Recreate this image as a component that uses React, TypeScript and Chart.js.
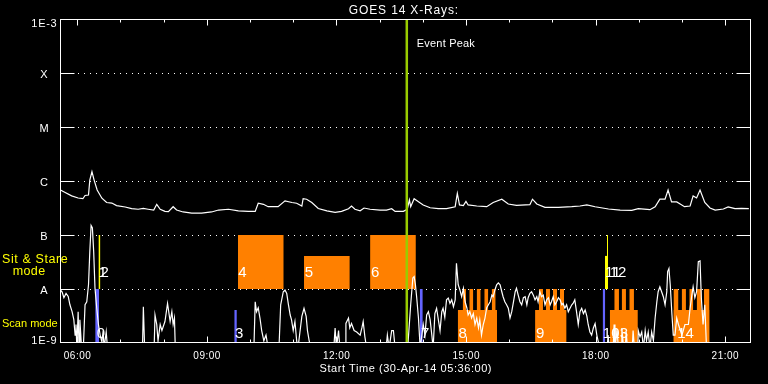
import React, { useEffect, useRef } from 'react';
import { Chart, registerables } from 'chart.js';

Chart.register(...registerables);

// ---------- texts ----------
const TITLE = 'GOES 14 X-Rays:';
const X_TITLE = 'Start Time (30-Apr-14 05:36:00)';
const EVENT_LABEL = 'Event Peak';
const SIT_LABEL = ['Sit & Stare', 'mode'];
const SCAN_LABEL = 'Scan mode';

// ---------- axes ----------
const timeRange = [5.6, 21.6]; // hours, 05:36 .. 21:36
const xMajorHours = [6, 9, 12, 15, 18, 21];
const xTickLabels = ['06:00', '09:00', '12:00', '15:00', '18:00', '21:00'];
const xMinorHours = [6, 7, 8, 9, 10, 11, 12, 13, 14, 15, 16, 17, 18, 19, 20, 21];
const fluxLevels = [1e-9, 1e-8, 1e-7, 1e-6, 1e-5, 1e-4, 1e-3];
const fluxLevelNames = ['1E-9', 'A', 'B', 'C', 'M', 'X', '1E-3'];
const eventPeakHour = 13.63;

// ---------- GOES long channel (1-8 A) [hour, W/m^2] ----------
const longChannel: [number, number][] = [
  [5.61, 6.8e-7], [5.72, 6.1e-7], [5.87, 5.3e-7], [6.02, 4.85e-7], [6.13, 4.7e-7],
  [6.18, 5.4e-7], [6.26, 5.5e-7], [6.29, 1.04e-6], [6.34, 1.49e-6], [6.39, 1.04e-6],
  [6.46, 6.8e-7], [6.57, 4.8e-7], [6.68, 4.0e-7], [6.80, 3.9e-7], [6.91, 3.5e-7],
  [7.11, 3.3e-7], [7.26, 3.07e-7], [7.41, 3.0e-7], [7.53, 3.1e-7], [7.64, 3.0e-7],
  [7.77, 2.9e-7], [7.84, 3.7e-7], [7.92, 3.0e-7], [8.03, 2.74e-7], [8.11, 2.7e-7],
  [8.22, 3.34e-7], [8.30, 2.9e-7], [8.45, 2.67e-7], [8.65, 2.55e-7], [8.88, 2.55e-7],
  [9.11, 2.67e-7], [9.27, 2.9e-7], [9.50, 3.0e-7], [9.73, 2.8e-7], [9.96, 2.74e-7],
  [10.12, 2.74e-7], [10.19, 3.87e-7], [10.31, 3.7e-7], [10.42, 3.34e-7], [10.65, 3.34e-7],
  [10.81, 4.3e-7], [10.97, 4.0e-7], [11.08, 3.87e-7], [11.20, 3.44e-7], [11.23, 4.7e-7],
  [11.31, 4.6e-7], [11.43, 4.0e-7], [11.58, 3.1e-7], [11.78, 2.8e-7], [11.97, 2.63e-7],
  [12.12, 2.74e-7], [12.28, 3.07e-7], [12.35, 3.44e-7], [12.43, 3.0e-7], [12.55, 2.8e-7],
  [12.64, 3.16e-7], [12.78, 3.0e-7], [13.01, 2.9e-7], [13.16, 2.9e-7], [13.28, 3.07e-7],
  [13.36, 2.74e-7], [13.55, 2.74e-7], [13.64, 3.0e-7], [13.69, 4.45e-7], [13.72, 3.34e-7],
  [13.80, 4.7e-7], [13.90, 4.14e-7], [14.01, 3.6e-7], [14.17, 3.2e-7], [14.36, 3.07e-7],
  [14.55, 3.07e-7], [14.75, 3.34e-7], [14.80, 5.9e-7], [14.85, 3.6e-7], [14.94, 3.5e-7],
  [15.00, 4.2e-7], [15.05, 3.6e-7], [15.25, 3.44e-7], [15.48, 3.34e-7], [15.63, 4.0e-7],
  [15.83, 4.6e-7], [15.98, 3.75e-7], [16.17, 3.55e-7], [16.48, 3.64e-7], [16.54, 4.6e-7],
  [16.64, 3.75e-7], [16.83, 3.26e-7], [17.14, 3.26e-7], [17.45, 3.34e-7], [17.64, 3.44e-7],
  [17.80, 3.6e-7], [17.99, 3.34e-7], [18.30, 3.03e-7], [18.57, 2.9e-7], [18.84, 2.86e-7],
  [18.99, 3.07e-7], [19.26, 2.94e-7], [19.38, 3.34e-7], [19.49, 4.6e-7], [19.61, 4.6e-7],
  [19.68, 6.8e-7], [19.76, 4.1e-7], [19.88, 4.1e-7], [19.96, 3.75e-7], [20.06, 3.34e-7],
  [20.19, 3.44e-7], [20.26, 5.3e-7], [20.34, 4.85e-7], [20.42, 6.8e-7], [20.53, 4.0e-7],
  [20.65, 3.16e-7], [20.77, 2.9e-7], [20.96, 3.03e-7], [21.07, 3.3e-7], [21.23, 3.07e-7],
  [21.38, 3.12e-7], [21.55, 3.07e-7],
];

// ---------- GOES short channel (0.5-4 A) [hour, W/m^2] (values < 1E-9 fall off the plot) ----------
const shortChannel: [number, number][] = [
  [5.61, 9.6e-9], [5.65, 8.8e-9], [5.69, 6.9e-9], [5.74, 8.3e-9], [5.79, 7.3e-9],
  [5.83, 5.1e-9], [5.88, 3.8e-9], [5.92, 2.7e-9], [5.95, 1.4e-9], [5.97, 2.2e-9],
  [5.99, 8e-10], [6.02, 3.8e-9], [6.04, 8e-10], [6.06, 2.7e-9], [6.10, 8e-10],
  [6.14, 8e-10], [6.18, 5.1e-9], [6.22, 5.8e-9], [6.26, 1.2e-8], [6.29, 4.9e-8],
  [6.32, 1.5e-7], [6.35, 1.35e-7], [6.38, 4.9e-8], [6.41, 1.04e-8], [6.45, 4.5e-9],
  [6.49, 2.2e-9], [6.53, 1.4e-9], [6.57, 1.05e-9], [6.60, 1.7e-9], [6.62, 8e-10],
  [6.67, 1.6e-9], [6.70, 8e-10], [7.51, 8e-10], [7.53, 4.7e-9], [7.56, 8e-10],
  [7.78, 8e-10], [7.80, 3.3e-9], [7.84, 2.2e-9], [7.87, 1.1e-9], [7.92, 2.2e-9],
  [7.96, 1.7e-9], [8.03, 2.5e-9], [8.09, 5.4e-9], [8.15, 2.5e-9], [8.19, 3.8e-9],
  [8.22, 2.2e-9], [8.25, 2.9e-9], [8.27, 8e-10], [10.09, 8e-10], [10.12, 5.8e-9],
  [10.15, 3.8e-9], [10.19, 4.5e-9], [10.23, 2.9e-9], [10.27, 1.7e-9], [10.32, 1.1e-9],
  [10.37, 1.4e-9], [10.42, 8e-10], [10.67, 8e-10], [10.71, 5.1e-9], [10.77, 8.9e-9],
  [10.81, 9.6e-9], [10.85, 8.3e-9], [10.89, 5.1e-9], [10.93, 3.3e-9], [10.96, 2.7e-9],
  [11.00, 1.7e-9], [11.04, 2.5e-9], [11.08, 1.1e-9], [11.11, 8e-10], [11.20, 3.1e-9],
  [11.25, 4.4e-9], [11.30, 3.1e-9], [11.33, 1.7e-9], [11.37, 1.1e-9], [11.41, 8e-10],
  [11.94, 8e-10], [11.97, 1.9e-9], [12.00, 8e-10], [12.05, 1.7e-9], [12.08, 8e-10],
  [12.20, 8e-10], [12.22, 2.3e-9], [12.28, 2.9e-9], [12.31, 1.9e-9], [12.35, 2.3e-9],
  [12.41, 1.7e-9], [12.47, 1.6e-9], [12.55, 1.4e-9], [12.59, 1.9e-9], [12.62, 2.5e-9],
  [12.66, 1.3e-9], [12.70, 8e-10], [13.15, 8e-10], [13.18, 1.4e-9], [13.22, 8e-10],
  [13.28, 1.7e-9], [13.32, 1.7e-9], [13.36, 8e-10], [13.65, 8e-10], [13.72, 5.1e-9],
  [13.77, 1.6e-8], [13.80, 1.7e-8], [13.83, 1.2e-8], [13.86, 6.9e-9], [13.90, 2.9e-9],
  [13.94, 8e-10], [14.01, 2.2e-9], [14.05, 1.4e-9], [14.09, 3.3e-9], [14.13, 3.8e-9],
  [14.17, 2.7e-9], [14.21, 1.4e-9], [14.24, 8e-10], [14.28, 3.5e-9], [14.32, 4.4e-9],
  [14.36, 2.7e-9], [14.40, 1.7e-9], [14.44, 3.8e-9], [14.47, 4.4e-9], [14.51, 3.0e-9],
  [14.55, 6.3e-9], [14.59, 6.8e-9], [14.63, 5.4e-9], [14.67, 6.3e-9], [14.71, 4.7e-9],
  [14.75, 6.3e-9], [14.78, 3.0e-8], [14.82, 1.2e-8], [14.86, 9.6e-9], [14.90, 7.2e-9],
  [14.94, 1.03e-8], [14.98, 5.8e-9], [15.02, 4.5e-9], [15.05, 3.3e-9], [15.09, 3.8e-9],
  [15.13, 2.9e-9], [15.17, 3.5e-9], [15.21, 2.2e-9], [15.25, 2.9e-9], [15.29, 1.9e-9],
  [15.32, 2.7e-9], [15.36, 1.4e-9], [15.40, 2.2e-9], [15.44, 2.9e-9], [15.48, 4.5e-9],
  [15.52, 5.1e-9], [15.56, 5.8e-9], [15.60, 7.7e-9], [15.63, 7.2e-9], [15.67, 9.6e-9],
  [15.71, 1.2e-8], [15.75, 1.3e-8], [15.79, 1.2e-8], [15.83, 8.9e-9], [15.86, 7.2e-9],
  [15.90, 5.8e-9], [15.94, 5.1e-9], [15.98, 4.4e-9], [16.02, 2.9e-9], [16.06, 3.8e-9],
  [16.10, 5.8e-9], [16.14, 8.9e-9], [16.17, 1.03e-8], [16.21, 7.7e-9], [16.25, 5.8e-9],
  [16.29, 5.1e-9], [16.33, 6.9e-9], [16.37, 7.2e-9], [16.41, 5.1e-9], [16.44, 6.9e-9],
  [16.48, 8.3e-9], [16.52, 8.9e-9], [16.56, 7.7e-9], [16.60, 6.3e-9], [16.64, 7.2e-9],
  [16.67, 5.8e-9], [16.71, 8.9e-9], [16.75, 7.2e-9], [16.79, 7.7e-9], [16.83, 5.1e-9],
  [16.87, 6.3e-9], [16.91, 6.9e-9], [16.95, 5.1e-9], [16.98, 5.8e-9], [17.02, 7.2e-9],
  [17.06, 5.1e-9], [17.10, 5.8e-9], [17.14, 6.9e-9], [17.18, 6.3e-9], [17.22, 5.1e-9],
  [17.25, 5.4e-9], [17.29, 4.4e-9], [17.33, 5.1e-9], [17.37, 3.8e-9], [17.41, 4.4e-9],
  [17.45, 5.1e-9], [17.48, 5.4e-9], [17.52, 6.3e-9], [17.56, 3.8e-9], [17.60, 2.2e-9],
  [17.64, 3.8e-9], [17.68, 4.4e-9], [17.72, 3.5e-9], [17.76, 4.1e-9], [17.80, 3.1e-9],
  [17.83, 2.2e-9], [17.87, 1.6e-9], [17.91, 1.4e-9], [17.95, 1.9e-9], [17.99, 2.3e-9],
  [18.03, 1.4e-9], [18.06, 1.1e-9], [18.10, 8e-10], [18.27, 8e-10], [18.29, 1.4e-9],
  [18.32, 8e-10], [18.41, 8e-10], [18.43, 2.2e-9], [18.45, 8e-10], [18.50, 1.7e-9],
  [18.53, 8e-10], [18.59, 8e-10], [18.61, 1.9e-9], [18.65, 8e-10], [18.69, 8e-10],
  [18.71, 1.6e-9], [18.74, 8e-10], [18.85, 8e-10], [18.87, 1.7e-9], [18.90, 8e-10],
  [18.98, 8e-10], [18.99, 1.7e-9], [19.03, 1.3e-9], [19.07, 1.6e-9], [19.11, 8e-10],
  [19.15, 1.7e-9], [19.18, 1.1e-9], [19.22, 1.6e-9], [19.26, 8e-10], [19.30, 1.6e-9],
  [19.34, 1.1e-9], [19.38, 2.9e-9], [19.42, 5.8e-9], [19.45, 8.9e-9], [19.49, 1.1e-8],
  [19.53, 8.9e-9], [19.57, 7.2e-9], [19.61, 5.1e-9], [19.65, 8.9e-9], [19.67, 2.1e-8],
  [19.70, 2.4e-8], [19.73, 1.2e-8], [19.77, 3.3e-9], [19.80, 1.4e-9], [19.84, 1.4e-9],
  [19.88, 2.9e-9], [19.92, 2.2e-9], [20.00, 1.4e-9], [20.07, 2.2e-9], [20.15, 2.2e-9],
  [20.19, 4.4e-9], [20.23, 7.7e-9], [20.26, 1.1e-8], [20.30, 6.9e-9], [20.34, 8.9e-9],
  [20.38, 3.2e-8], [20.42, 3.3e-8], [20.45, 6.9e-9], [20.49, 2.2e-9], [20.53, 5.1e-9],
  [20.57, 8e-10], [21.60, 8e-10],
];

// ---------- IRIS observations [start hour, end hour, low, high] ----------
const scanObs: [number, number, number, number][] = [
  [6.415, 6.505, 1e-9, 1e-8],
  [9.635, 9.695, 1e-9, 4.1e-9],
  [13.93, 14.0, 1e-9, 1e-8],
  [18.165, 18.225, 1e-9, 1e-8],
];
const sitStareObs: [number, number, number, number][] = [
  [6.49, 6.535, 1e-8, 1e-7],
  [18.22, 18.29, 1e-8, 4.1e-8],
  [18.265, 18.29, 1e-8, 1e-7],
];
const rasterObs: [number, number, number, number][] = [
  [9.72, 10.78, 1e-8, 1e-7],
  [11.25, 12.31, 1e-8, 4.1e-8],
  [12.78, 13.84, 1e-8, 1e-7],
  [14.81, 15.72, 1e-9, 4.1e-9],
  [14.924, 15.001, 1e-9, 1e-8], [15.077, 15.17, 1e-9, 1e-8], [15.248, 15.341, 1e-9, 1e-8],
  [15.424, 15.517, 1e-9, 1e-8], [15.596, 15.688, 1e-9, 1e-8],
  [16.60, 17.33, 1e-9, 4.1e-9],
  [16.691, 16.783, 1e-9, 1e-8], [16.853, 16.945, 1e-9, 1e-8], [17.015, 17.108, 1e-9, 1e-8],
  [17.177, 17.27, 1e-9, 1e-8],
  [18.33, 18.98, 1e-9, 4.1e-9],
  [18.434, 18.543, 1e-9, 1e-8], [18.606, 18.705, 1e-9, 1e-8], [18.782, 18.89, 1e-9, 1e-8],
  [19.805, 20.639, 1e-9, 4.1e-9],
  [19.805, 19.921, 1e-9, 1e-8], [19.995, 20.094, 1e-9, 1e-8], [20.171, 20.263, 1e-9, 1e-8],
  [20.342, 20.458, 1e-9, 1e-8], [20.511, 20.639, 1e-9, 1e-8],
];

// observation numbers [text, hour, flux at baseline]
const obsLabels: [string, number, number][] = [
  ['0', 6.45, 1.24e-9], ['1', 6.49, 1.65e-8], ['2', 6.54, 1.65e-8],
  ['3', 9.65, 1.24e-9], ['4', 9.73, 1.65e-8], ['5', 11.27, 1.65e-8],
  ['6', 12.80, 1.65e-8], ['7', 13.96, 1.24e-9], ['8', 14.83, 1.24e-9],
  ['9', 16.62, 1.24e-9], ['10', 18.17, 1.24e-9], ['11', 18.22, 1.65e-8],
  ['12', 18.33, 1.65e-8], ['13', 18.37, 1.24e-9], ['14', 19.89, 1.24e-9],
];

const FONT = '"Liberation Sans", Arial, sans-serif';
const WHITE = '#ffffff';
const YELLOW = '#ffff00';
const SCAN_COLOR = '#6464ff';
const RASTER_COLOR = '#ff8000';
const EVENT_COLOR = '#99cc00';

function drawText(
  ctx: CanvasRenderingContext2D, s: string, x: number, y: number,
  size: number, color: string, align: CanvasTextAlign = 'left', spacing = 0,
) {
  ctx.save();
  ctx.font = `${size}px ${FONT}`;
  ctx.fillStyle = color;
  ctx.textAlign = align;
  ctx.textBaseline = 'alphabetic';
  (ctx as any).letterSpacing = `${spacing}px`;
  const dx = align === 'center' ? spacing / 2 : 0;
  ctx.fillText(s, x + dx, y);
  ctx.restore();
}

const decor = {
  id: 'goesDecor',
  beforeDraw(chart: any) {
    const { ctx, width, height } = chart;
    ctx.save();
    ctx.fillStyle = '#000';
    ctx.fillRect(0, 0, width, height);
    ctx.restore();
  },
  beforeDatasetsDraw(chart: any) {
    const { ctx, chartArea: a, scales } = chart;
    ctx.save();
    ctx.strokeStyle = WHITE;
    ctx.lineWidth = 1;
    ctx.setLineDash([1, 5]);
    for (let i = 1; i < fluxLevels.length - 1; i++) {
      const y = Math.round(scales.y.getPixelForValue(fluxLevels[i])) + 0.5;
      ctx.beginPath();
      ctx.moveTo(a.left + 18, y);
      ctx.lineTo(a.right - 14, y);
      ctx.stroke();
    }
    ctx.restore();
  },
  afterDatasetsDraw(chart: any) {
    const { ctx, chartArea: a, scales } = chart;
    const L = Math.round(a.left) + 0.5;
    const R = Math.round(a.right) - 0.5;
    const T = Math.round(a.top) + 0.5;
    const B = Math.round(a.bottom) - 0.5;
    ctx.save();
    ctx.strokeStyle = WHITE;
    ctx.lineWidth = 1;
    ctx.setLineDash([]);
    ctx.strokeRect(L, T, R - L, B - T);
    for (let i = 1; i < fluxLevels.length - 1; i++) {
      const y = Math.round(scales.y.getPixelForValue(fluxLevels[i])) + 0.5;
      ctx.beginPath();
      ctx.moveTo(L, y); ctx.lineTo(L + 14, y);
      ctx.moveTo(R, y); ctx.lineTo(R - 14, y);
      ctx.stroke();
    }
    xMinorHours.forEach((h) => {
      const x = Math.round(scales.x.getPixelForValue(h)) + 0.5;
      const len = xMajorHours.includes(h) ? 6 : 3;
      ctx.beginPath();
      ctx.moveTo(x, T); ctx.lineTo(x, T + len);
      ctx.moveTo(x, B); ctx.lineTo(x, B - len);
      ctx.stroke();
    });
    ctx.restore();

    xMajorHours.forEach((h, i) => {
      drawText(ctx, xTickLabels[i], scales.x.getPixelForValue(h), a.bottom + 16, 10, WHITE, 'center', 0.5);
    });
    fluxLevels.forEach((v, i) => {
      let b = scales.y.getPixelForValue(v) + 4.5;
      b = Math.max(b, a.top + 8);
      b = Math.min(b, a.bottom + 0.5);
      drawText(ctx, fluxLevelNames[i], a.left - 16, b, 11, WHITE, 'center', 0.7);
    });
    const cx = (a.left + a.right) / 2;
    drawText(ctx, TITLE, cx - 2, 13.5, 12, WHITE, 'center', 0.85);
    drawText(ctx, X_TITLE, cx, a.bottom + 29, 11, WHITE, 'center', 0.55);
    drawText(ctx, SIT_LABEL[0], 2, 262.5, 12.5, YELLOW, 'left', 0.6);
    drawText(ctx, SIT_LABEL[1], 12.7, 275, 12.5, YELLOW, 'left', 0.4);
    drawText(ctx, SCAN_LABEL, 2, 327.3, 11, YELLOW, 'left', 0);
    drawText(ctx, EVENT_LABEL, scales.x.getPixelForValue(eventPeakHour) + 10, a.top + 27.7, 11, WHITE, 'left', 0.2);
    obsLabels.forEach(([t, h, v]) => {
      drawText(ctx, t, scales.x.getPixelForValue(h), scales.y.getPixelForValue(v), 15, WHITE, 'left', 0);
    });
  },
};

function rectDataset(r: [number, number, number, number], color: string, order: number) {
  return {
    data: [{ x: r[0], y: r[3] }, { x: r[1], y: r[3] }],
    borderColor: 'rgba(0,0,0,0)',
    borderWidth: 0,
    backgroundColor: color,
    fill: { target: { value: r[2] } },
    pointRadius: 0,
    order,
  };
}

export default function App() {
  const canvasRef = useRef<HTMLCanvasElement | null>(null);

  useEffect(() => {
    const canvas = canvasRef.current;
    if (!canvas) return;
    const datasets: any[] = [
      {
        data: [{ x: eventPeakHour, y: fluxLevels[0] }, { x: eventPeakHour, y: fluxLevels[fluxLevels.length - 1] }],
        borderColor: EVENT_COLOR, borderWidth: 2.5, pointRadius: 0, fill: false, order: 0,
      },
      {
        data: longChannel.map(([x, y]) => ({ x, y })),
        borderColor: WHITE, borderWidth: 1.2, pointRadius: 0, fill: false, tension: 0, order: 1,
      },
      {
        data: shortChannel.map(([x, y]) => ({ x, y })),
        borderColor: WHITE, borderWidth: 1.2, pointRadius: 0, fill: false, tension: 0, order: 1,
      },
      ...scanObs.map((r) => rectDataset(r, SCAN_COLOR, 2)),
      ...sitStareObs.map((r) => rectDataset(r, YELLOW, 2)),
      ...rasterObs.map((r) => rectDataset(r, RASTER_COLOR, 3)),
    ];

    const chart = new Chart(canvas, {
      type: 'line',
      data: { datasets },
      options: {
        responsive: false,
        animation: false,
        devicePixelRatio: 1,
        events: [],
        layout: { padding: { left: 60, right: 17, top: 19, bottom: 41 } },
        scales: {
          x: { type: 'linear', min: timeRange[0], max: timeRange[1], display: false },
          y: { type: 'logarithmic', min: fluxLevels[0], max: fluxLevels[fluxLevels.length - 1], display: false },
        },
        plugins: {
          legend: { display: false },
          tooltip: { enabled: false },
          title: { display: false },
        },
      } as any,
      plugins: [decor as any],
    });
    return () => chart.destroy();
  }, []);

  return (
    <div style={{ position: 'fixed', left: 0, top: 0, width: 768, height: 384, background: '#000' }}>
      <canvas ref={canvasRef} width={768} height={384} style={{ display: 'block', width: 768, height: 384 }} />
    </div>
  );
}
